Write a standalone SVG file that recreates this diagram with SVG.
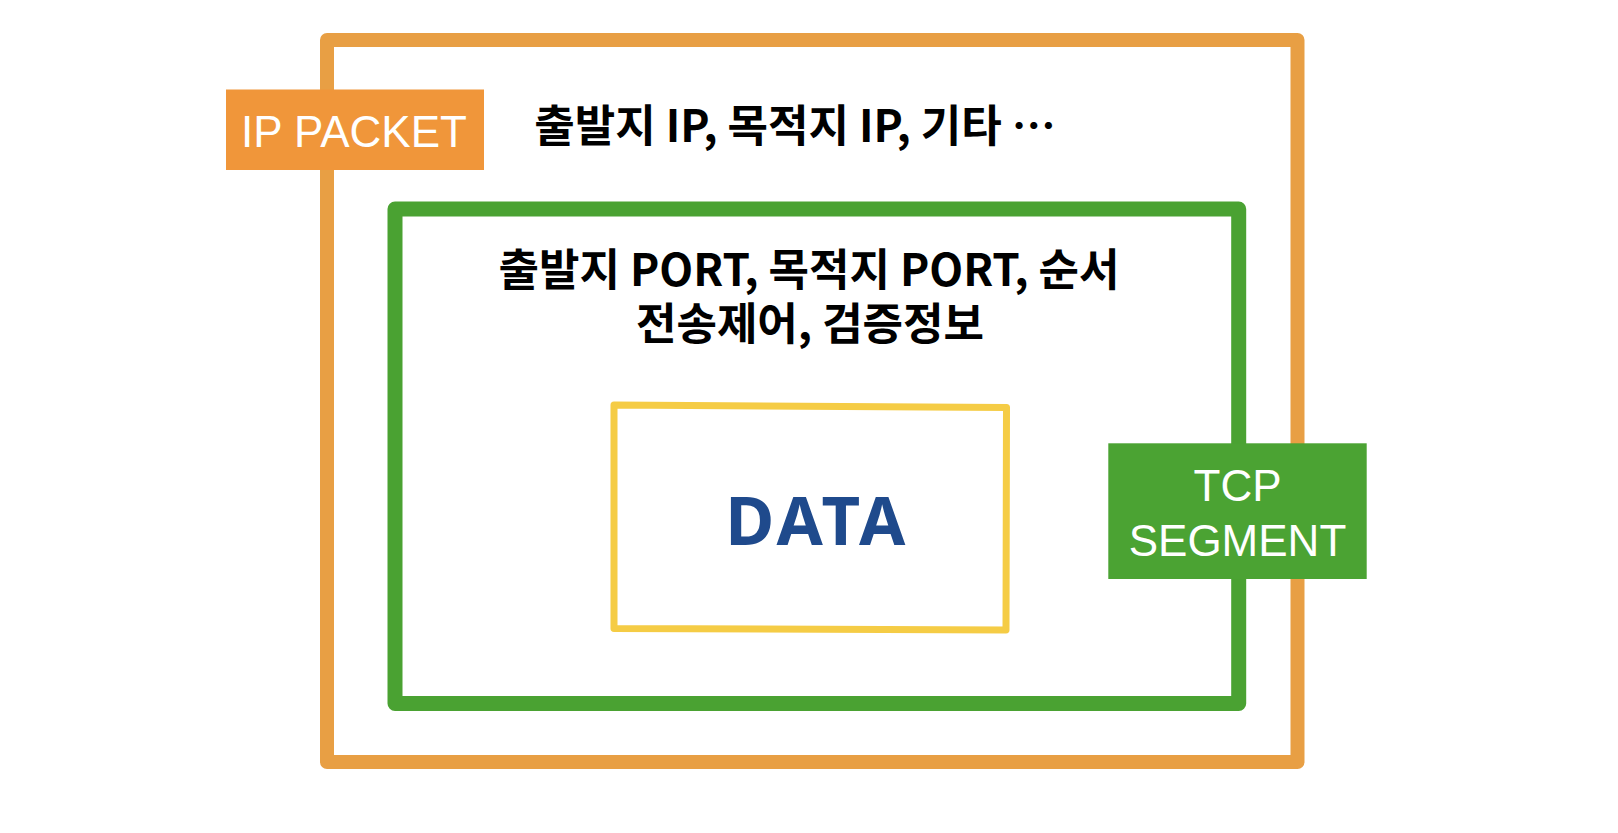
<svg xmlns="http://www.w3.org/2000/svg" width="1618" height="833" viewBox="0 0 1618 833">
<style>
.frame{fill:none;stroke-linejoin:round}
.lbl{font-family:"Liberation Sans",Arial,sans-serif;font-size:44px;fill:#ffffff;text-anchor:middle}
.kr{font-family:"Noto Sans CJK KR","Noto Sans",sans-serif;font-weight:700;font-size:44px;fill:#000000;text-anchor:middle}
</style>
<rect width="1618" height="833" fill="#ffffff"/>
<g id="ip-packet">
<rect class="frame" x="327" y="40" width="970.5" height="722" stroke="#E89F44" stroke-width="14"/>
<text class="kr" x="795" y="142">출발지 IP, 목적지 IP, 기타 …</text>
</g>
<g id="ip-packet-label">
<rect x="226" y="89.5" width="258" height="80.5" fill="#F0963A"/>
<text class="lbl" x="354" y="147">IP PACKET</text>
</g>
<g id="tcp-segment">
<rect class="frame" x="395" y="209" width="843.7" height="494.5" stroke="#4AA232" stroke-width="15"/>
<text class="kr" x="809" y="286">출발지 PORT, 목적지 PORT, 순서</text>
<text class="kr" x="810" y="340" font-size="43.5">전송제어, 검증정보</text>
</g>
<g id="tcp-segment-label">
<rect x="1108.3" y="443.3" width="258.4" height="135.7" fill="#4BA333"/>
<text class="lbl" x="1237.5" y="501">TCP</text>
<text class="lbl" x="1237.5" y="556">SEGMENT</text>
</g>
<g id="data">
<path class="frame" d="M614 405 L1006.5 407.5 L1006 630 L614 628.5 Z" stroke="#F5CC45" stroke-width="7"/>
<text x="817" y="545" font-family="'Noto Sans','Noto Sans CJK KR',sans-serif" font-weight="700" font-size="67" letter-spacing="3.4" fill="#1F4A8C" text-anchor="middle">DATA</text>
</g>
<g id="connectors"/>
</svg>
